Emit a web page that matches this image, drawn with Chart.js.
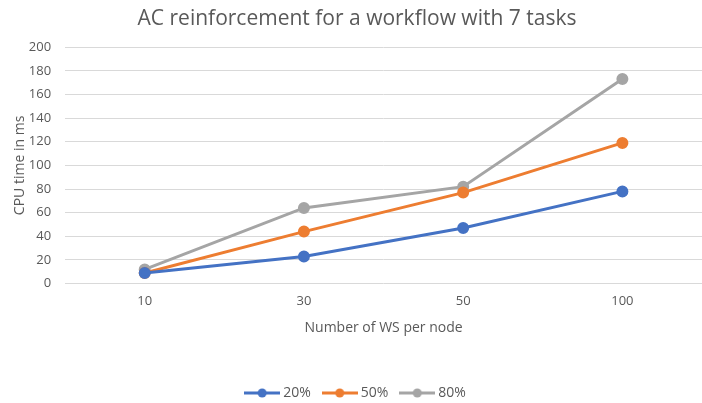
<!DOCTYPE html>
<html>
<head>
<meta charset="utf-8">
<script src="https://cdn.jsdelivr.net/npm/chart.js@4/dist/chart.umd.min.js"></script>
<style>
  html, body { margin: 0; padding: 0; background: #fff; }
  .chart-container { width: 702px; height: 403px; }
</style>
</head>
<body>
<div class="chart-container">
  <canvas id="cpu-chart"></canvas>
</div>
<script>
const labels = ['10', '30', '50', '100']
const data20 = [9, 23, 47, 78]
const data50 = [9, 44, 77, 119]
const data80 = [12, 64, 82, 173]

const colors = { '20%': '#4472C4', '50%': '#ED7D31', '80%': '#A5A5A5' }

// legend marker: short line with a dot in the middle, like Excel
function legendIcon(color) {
  const c = document.createElement('canvas')
  c.width = 36
  c.height = 10
  const ctx = c.getContext('2d')
  ctx.strokeStyle = color
  ctx.lineWidth = 3
  ctx.beginPath()
  ctx.moveTo(0, 5)
  ctx.lineTo(36, 5)
  ctx.stroke()
  ctx.fillStyle = color
  ctx.beginPath()
  ctx.arc(18, 5, 4.5, 0, Math.PI * 2)
  ctx.fill()
  return c
}

const makeSet = (label, values) => ({
  label,
  data: values,
  borderColor: colors[label],
  backgroundColor: colors[label],
  borderWidth: 3,
  pointRadius: 4.5,
  pointHoverRadius: 4.5,
  tension: 0
})

const textColor = '#595959'
const ctx = document.getElementById('cpu-chart').getContext('2d')
new Chart(ctx, {
  type: 'line',
  data: {
    labels,
    datasets: [makeSet('20%', data20), makeSet('50%', data50), makeSet('80%', data80)]
  },
  options: {
    responsive: true,
    maintainAspectRatio: false,
    animation: false,
    layout: { autoPadding: false, padding: { top: 4, left: 12, right: 0, bottom: -7 } },
    plugins: {
      title: {
        display: true,
        text: 'AC reinforcement for a workflow with 7 tasks',
        color: textColor,
        font: { family: 'Open Sans', size: 21, weight: 'normal' },
        padding: { top: 2, bottom: 16 }
      },
      legend: {
        position: 'bottom',
        labels: {
          color: textColor,
          font: { family: 'Open Sans', size: 14 },
          usePointStyle: true,
          pointStyleWidth: 28,
          padding: 15,
          generateLabels: (chart) => chart.data.datasets.map((ds, i) => ({
            text: ds.label,
            pointStyle: legendIcon(ds.borderColor),
            fillStyle: ds.borderColor,
            strokeStyle: ds.borderColor,
            lineWidth: 0,
            fontColor: textColor,
            datasetIndex: i
          }))
        }
      },
      tooltip: { enabled: false }
    },
    scales: {
      x: {
        offset: true,
        grid: { display: false, drawTicks: false },
        border: { display: false },
        ticks: { color: textColor, font: { family: 'Open Sans', size: 13 }, padding: 10 },
        title: {
          display: true,
          text: 'Number of WS per node',
          color: textColor,
          font: { family: 'Open Sans', size: 14 },
          padding: { top: 0, bottom: 35 }
        }
      },
      y: {
        min: 0,
        max: 200,
        ticks: { stepSize: 20, color: textColor, font: { family: 'Open Sans', size: 13 }, padding: 14 },
        grid: { color: '#D9D9D9', lineWidth: 1, drawTicks: false },
        border: { display: false },
        title: {
          display: true,
          text: 'CPU time in ms',
          color: textColor,
          font: { family: 'Open Sans', size: 14 },
          padding: { top: 0, bottom: -14 }
        }
      }
    }
  }
})
</script>
</body>
</html>
